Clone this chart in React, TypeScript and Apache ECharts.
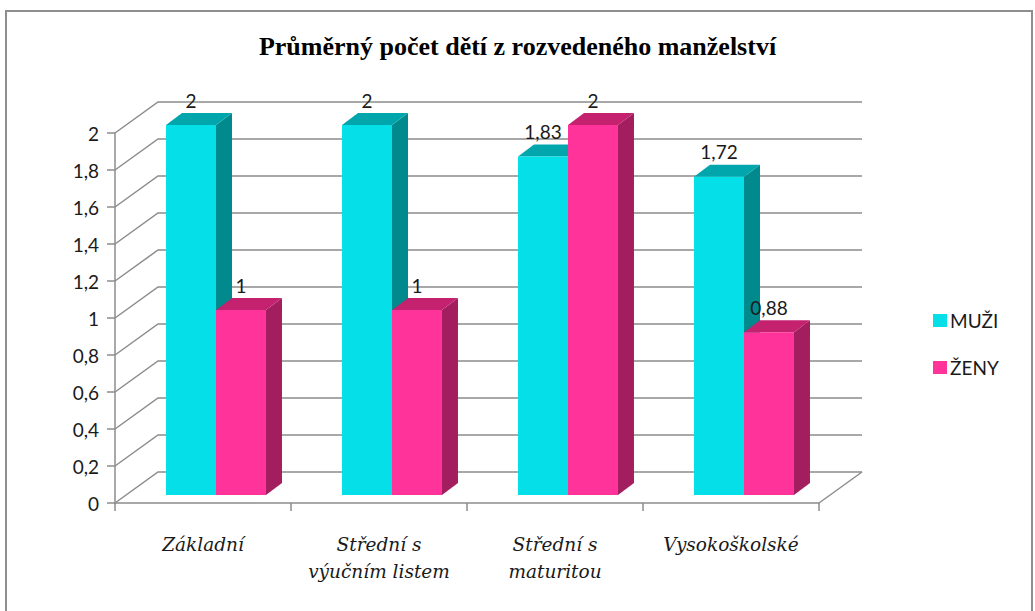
import React, { useEffect, useRef } from "react";
import * as echarts from "echarts";

const categories = ["Základní", "Střední s\nvýučním listem", "Střední s\nmaturitou", "Vysokoškolské"];
const seriesNames = ["MUŽI", "ŽENY"];
const muzi = [2, 2, 1.83, 1.72];
const zeny = [1, 1, 2, 0.88];
const yTicks = [0, 0.2, 0.4, 0.6, 0.8, 1, 1.2, 1.4, 1.6, 1.8, 2];

const FRONT = ["#05E0E8", "#FF3399"];
const SIDE = ["#008A8E", "#A31E5F"];
const TOP = ["#00A6AC", "#C4216F"];

const WALL_DX = 43;
const WALL_DY = -31;
const PLANE_DX = 13;
const PLANE_DY = -8;
const BAR_DX = 16;
const BAR_DY = -12;
const GRID_COLOR = "#8C8C8C";
const SANS = "Lato, 'Open Sans', sans-serif";
const SERIF = "'Liberation Serif', 'DejaVu Serif', serif";
const ITALIC_SERIF = "'DejaVu Serif', 'Liberation Serif', serif";

const fmt = (v: number) => String(v).replace(".", ",");

function barSeries(idx: number, values: number[]) {
  return {
    type: "custom",
    name: seriesNames[idx],
    coordinateSystem: "cartesian2d",
    clip: false,
    z: 5 + idx,
    itemStyle: { color: FRONT[idx] },
    data: values.map((v, i) => [i, v]),
    renderItem: (params: any, api: any) => {
      const ci = api.value(0);
      const val = api.value(1);
      const base = api.coord([ci, 0]);
      const top = api.coord([ci, val]);
      const catW = api.size([1, 0])[0];
      const bw = catW * 0.284;
      const x0 = base[0] + PLANE_DX + (idx === 0 ? -bw : 0);
      const x1 = x0 + bw;
      const yb = base[1] + PLANE_DY;
      const yt = top[1] + PLANE_DY;
      return {
        type: "group",
        children: [
          {
            type: "polygon",
            shape: { points: [[x1, yt], [x1 + BAR_DX, yt + BAR_DY], [x1 + BAR_DX, yb + BAR_DY], [x1, yb]] },
            style: { fill: SIDE[idx] },
          },
          {
            type: "polygon",
            shape: { points: [[x0, yt], [x0 + BAR_DX, yt + BAR_DY], [x1 + BAR_DX, yt + BAR_DY], [x1, yt]] },
            style: { fill: TOP[idx] },
          },
          {
            type: "rect",
            shape: { x: x0, y: yt, width: bw, height: yb - yt },
            style: { fill: FRONT[idx] },
          },
          {
            type: "text",
            style: {
              text: fmt(val),
              x: (x0 + x1) / 2,
              y: yt - 25,
              align: "center",
              verticalAlign: "middle",
              fontSize: 19,
              fontFamily: SANS,
              fill: "#1A1A1A",
            },
          },
        ],
      };
    },
  };
}

export default function App() {
  const ref = useRef<HTMLDivElement>(null);
  useEffect(() => {
    if (!ref.current) return;
    const chart = echarts.init(ref.current, undefined, { renderer: "svg" });
    chart.setOption({
      animation: false,
      backgroundColor: "#FFFFFF",
      title: {
        text: "Průměrný počet dětí z rozvedeného manželství",
        left: "center",
        top: 33,
        padding: 0,
        textStyle: { fontFamily: SERIF, fontWeight: "bold", fontSize: 26, color: "#000" },
      },
      legend: {
        data: seriesNames,
        orient: "vertical",
        left: 928,
        top: 306,
        itemWidth: 14,
        itemHeight: 13,
        itemGap: 28,
        icon: "rect",
        textStyle: { fontFamily: SANS, fontSize: 19, color: "#1A1A1A", padding: [0, 0, 0, -2] },
      },
      graphic: [
        {
          type: "rect",
          shape: { x: 6, y: 11, width: 1026, height: 700 },
          style: { fill: "none", stroke: "#8E8E8E", lineWidth: 2 },
          z: 100,
        },
      ],
      grid: { left: 115, right: 216, top: 133, bottom: 108, containLabel: false },
      xAxis: {
        type: "category",
        data: categories,
        axisLine: { lineStyle: { color: GRID_COLOR, width: 1.5 } },
        axisTick: {
          show: true,
          interval: 0,
          alignWithLabel: false,
          length: 8,
          lineStyle: { color: GRID_COLOR, width: 1.5 },
        },
        splitLine: { show: false },
        axisLabel: {
          interval: 0,
          hideOverlap: false,
          fontFamily: ITALIC_SERIF,
          fontStyle: "italic",
          fontSize: 18.5,
          lineHeight: 27,
          margin: 28,
          color: "#1A1A1A",
        },
      },
      yAxis: {
        type: "value",
        min: 0,
        max: 2,
        interval: 0.2,
        axisLine: { show: true, lineStyle: { color: GRID_COLOR, width: 1.5 } },
        axisTick: { show: true, length: 8, lineStyle: { color: GRID_COLOR, width: 1.5 } },
        splitLine: { show: false },
        axisLabel: { formatter: (v: number) => fmt(v), fontFamily: SANS, fontSize: 19, color: "#1A1A1A", margin: 16 },
      },
      series: [
        {
          type: "custom",
          name: "walls",
          coordinateSystem: "cartesian2d",
          clip: false,
          silent: true,
          z: 1,
          data: yTicks.map((v) => [0, v]),
          renderItem: (params: any, api: any) => {
            const cs = params.coordSys;
            const y = api.coord([0, api.value(1)])[1];
            const xl = cs.x;
            const xr = cs.x + cs.width;
            const children: any[] = [
              {
                type: "polyline",
                shape: { points: [[xl, y], [xl + WALL_DX, y + WALL_DY], [xr + WALL_DX, y + WALL_DY]] },
                style: { stroke: GRID_COLOR, lineWidth: 1.5, fill: "none" },
              },
            ];
            if (api.value(1) === 0) {
              children.push({
                type: "line",
                shape: { x1: xr, y1: y, x2: xr + WALL_DX, y2: y + WALL_DY },
                style: { stroke: GRID_COLOR, lineWidth: 1.5 },
              });
            }
            return { type: "group", children };
          },
        },
        barSeries(0, muzi),
        barSeries(1, zeny),
      ],
    });
    return () => chart.dispose();
  }, []);
  return <div ref={ref} style={{ position: "fixed", left: 0, top: 0, width: 1035, height: 611 }} />;
}
